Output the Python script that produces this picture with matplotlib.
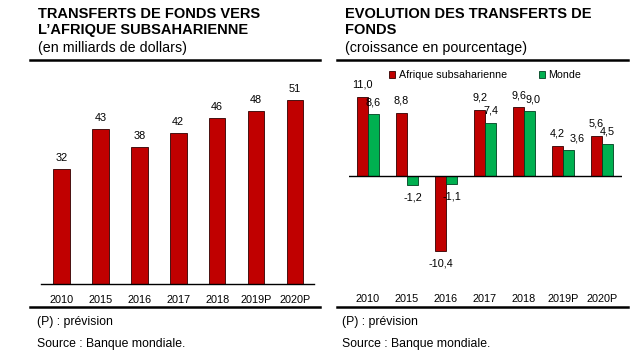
import matplotlib.pyplot as plt
from matplotlib.lines import Line2D
from matplotlib.patches import Patch
import numpy as np

plt.rcParams['font.family'] = ['Liberation Sans', 'DejaVu Sans']

# donnees
annees = ['2010', '2015', '2016', '2017', '2018', '2019P', '2020P']
transferts = [32, 43, 38, 42, 46, 48, 51]
croissance_afrique = [11.0, 8.8, -10.4, 9.2, 9.6, 4.2, 5.6]
croissance_monde = [8.6, -1.2, -1.1, 7.4, 9.0, 3.6, 4.5]

ROUGE = '#C00000'
VERT = '#00B050'
W, H = 638, 359

fig = plt.figure(figsize=(W / 100, H / 100), dpi=100)


def px_axes(x0, y0, x1, y1):
    # rectangle en pixels (origine en haut a gauche)
    return fig.add_axes([x0 / W, 1 - y1 / H, (x1 - x0) / W, (y1 - y0) / H])


def fr(v):
    return f"{v:.1f}".replace('.', ',')


def regle(x0, x1, y):
    fig.add_artist(Line2D([x0 / W, x1 / W], [1 - y / H, 1 - y / H],
                          color='black', lw=1.8, transform=fig.transFigure))


def txt(x, y, s, **kw):
    fig.text(x / W, 1 - y / H, s, **kw)


# ---- panneau gauche
txt(38, 7, "TRANSFERTS DE FONDS VERS", fontsize=10.5, fontweight='bold', va='top')
txt(38, 23, "L\u2019AFRIQUE SUBSAHARIENNE", fontsize=10.5, fontweight='bold', va='top')
txt(38, 48, "(en milliards de dollars)", fontsize=10.3, va='center')
regle(30, 320, 60)
regle(30, 320, 307)
txt(37, 322, "(P) : prévision", fontsize=8.8, va='center')
txt(37, 344, "Source : Banque mondiale.", fontsize=8.8, va='center')

x = np.arange(len(annees))
ax1 = px_axes(41, 68, 314, 284)
ax1.bar(x, transferts, width=0.43, color=ROUGE, edgecolor='#300000', lw=0.6)
for xi, v in zip(x, transferts):
    ax1.annotate(str(v), (xi, v), xytext=(0, 8), textcoords='offset points',
                 ha='center', va='center', fontsize=7.8)
ax1.set_xlim(-0.527, 6.49)
ax1.set_ylim(0, 60)
ax1.set_xticks(x, annees, fontsize=7.8)
ax1.tick_params(axis='x', length=0, pad=8)
ax1.set_yticks([])
for s in ['top', 'right', 'left']:
    ax1.spines[s].set_visible(False)
ax1.spines['bottom'].set_linewidth(1)

# ---- panneau droit
txt(345, 7, "EVOLUTION DES TRANSFERTS DE", fontsize=10.5, fontweight='bold', va='top')
txt(345, 23, "FONDS", fontsize=10.5, fontweight='bold', va='top')
txt(345, 48, "(croissance en pourcentage)", fontsize=10.3, va='center')
regle(337, 628, 60)
regle(337, 628, 307)
txt(342, 322, "(P) : prévision", fontsize=8.8, va='center')
txt(342, 344, "Source : Banque mondiale.", fontsize=8.8, va='center')

ax2 = px_axes(349, 68, 622, 290)
bw = 0.28
ax2.bar(x - bw / 2, croissance_afrique, width=bw, color=ROUGE, edgecolor='#300000', lw=0.6)
ax2.bar(x + bw / 2, croissance_monde, width=bw, color=VERT, edgecolor='#004020', lw=0.6)
decalages = {(4, 1): 2.5, (5, 1): 6}  # petits decalages comme dans l'original
for i, (xi, a, m) in enumerate(zip(x, croissance_afrique, croissance_monde)):
    for j, (xx, v) in enumerate(((xi - bw / 2, a), (xi + bw / 2, m))):
        dx = decalages.get((i, j), 0)
        ax2.annotate(fr(v), (xx, v), xytext=(dx, 8.5 if v >= 0 else -9),
                     textcoords='offset points', ha='center', va='center', fontsize=7.8)
ax2.axhline(0, color='black', lw=1)
ax2.set_xlim(-0.487, 6.51)
ax2.set_ylim(-15.83, 15)
ax2.set_xticks(x, annees, fontsize=7.8)
ax2.tick_params(axis='x', length=0, pad=3)
ax2.set_yticks([])
for s in ax2.spines.values():
    s.set_visible(False)

poignees = [Patch(facecolor=ROUGE, edgecolor='#300000', lw=0.6),
            Patch(facecolor=VERT, edgecolor='#004020', lw=0.6)]
fig.legend(poignees, ['Afrique subsaharienne', 'Monde'], ncol=2, frameon=False,
           loc='center left', bbox_to_anchor=(389 / W, 1 - 75 / H),
           fontsize=7.7, handlelength=0.6, handleheight=0.6, handletextpad=0.3,
           columnspacing=3.0, borderpad=0, borderaxespad=0)

fig.savefig('out.png', dpi=100, facecolor='white')
